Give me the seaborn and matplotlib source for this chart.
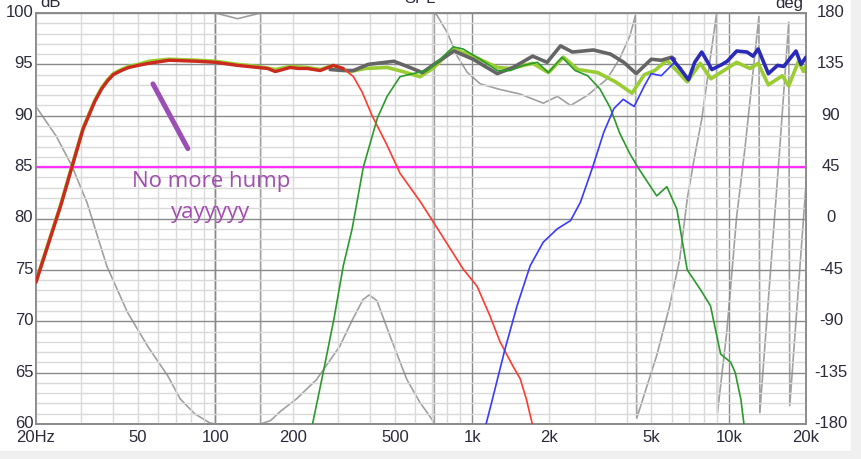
import numpy as np
import matplotlib
matplotlib.use('Agg')
import matplotlib.pyplot as plt
import seaborn as sns
from matplotlib.ticker import FixedLocator, FixedFormatter, FuncFormatter, MultipleLocator
from matplotlib.patches import Rectangle
from matplotlib.transforms import ScaledTranslation

# 低音单元 (红)
red_f = [20, 25, 27.6, 30.5, 33.9, 36, 38, 40, 43, 46, 50, 55, 66, 85, 100, 122, 146, 160, 171, 196, 210, 228,
         256, 288, 315, 345, 373, 408, 465, 524, 630, 730, 922, 1046, 1175, 1285, 1445, 1540, 1628, 1717, 1800]
red_db = [73.8, 81.3, 85.0, 88.7, 91.4, 92.6, 93.4, 94.0, 94.4, 94.7, 94.9, 95.1, 95.4, 95.3, 95.2, 94.9,
          94.7, 94.6, 94.3, 94.7, 94.6, 94.6, 94.4, 94.9, 94.6, 93.8, 92.3, 90.0, 87.2, 84.4, 81.6, 79.1,
          75.1, 73.4, 70.5, 68.0, 65.6, 64.4, 62.4, 60.0, 58.0]

# 中音单元 (绿)
mid_f = [225, 239, 263, 290, 315, 341, 377, 428, 467, 524, 589, 668, 752, 845, 922, 1075, 1254, 1410,
         1584, 1797, 1983, 2240, 2520, 2820, 3150, 3450, 3760, 4120, 4420, 5240, 5740, 6280, 6890, 7750,
         8490, 9300, 10180, 10600, 11150, 11460, 12000]
mid_db = [58.0, 60.0, 65.0, 70.3, 75.4, 79.0, 85.0, 89.8, 91.9, 93.8, 94.1, 94.4, 95.5, 96.7, 96.5, 95.5,
          94.4, 94.4, 94.9, 95.2, 94.2, 95.7, 94.4, 93.9, 92.6, 90.8, 88.3, 86.3, 85.0, 82.2, 83.1, 80.9,
          75.0, 73.1, 71.5, 66.8, 66.0, 65.0, 62.4, 60.0, 57.0]

# 高音单元 (蓝)
tw_f = [1080, 1134, 1200, 1344, 1497, 1684, 1894, 2150, 2420, 2645, 2950, 3260, 3570, 3880, 4280, 4690,
        4990, 5460, 6150, 6550]
tw_db = [58.0, 60.0, 62.4, 67.3, 71.5, 75.4, 77.7, 79.0, 79.8, 81.6, 85.0, 88.4, 90.7, 91.6, 90.9, 92.9,
         94.1, 93.9, 95.2, 94.6]
tw_top_f = [6000, 6550, 6970, 7370, 7850, 8600, 9420, 9860, 10740, 11780, 12440, 13020, 14270, 15490,
            16380, 18280, 19130, 20000]
tw_top_db = [95.6, 94.4, 93.5, 95.2, 96.2, 94.5, 95.0, 95.3, 96.3, 96.2, 95.8, 96.5, 94.1, 94.9, 94.8,
             96.3, 95.0, 95.7]

# 总响应 (浅绿)
sum_f = [20, 25, 27.6, 30.5, 33.9, 36, 38, 40, 43, 46, 50, 55, 66, 85, 100, 122, 146, 171, 196, 228, 256,
         288, 315, 335, 383, 467, 537, 626, 703, 845, 1009, 1254, 1410, 1722, 1983, 2270, 2580, 3090, 3620,
         4200, 4690, 5150, 5740, 6890, 7750, 8520, 9560, 10740, 12090, 13020, 14270, 16180, 17130,
         18690, 19560, 20000]
sum_db = [73.9, 81.4, 85.1, 88.8, 91.5, 92.7, 93.5, 94.1, 94.5, 94.8, 95.0, 95.3, 95.5, 95.4, 95.3, 95.0,
          94.8, 94.5, 94.8, 94.7, 94.5, 94.9, 94.5, 94.3, 94.6, 94.7, 94.3, 93.8, 94.6, 96.5, 95.8, 94.7,
          94.6, 95.1, 94.2, 95.7, 94.5, 94.2, 93.3, 92.2, 94.0, 94.4, 95.4, 93.3, 95.1, 93.6, 94.4, 95.2,
          94.6, 95.1, 93.0, 93.9, 92.9, 95.3, 94.3, 94.9]

# 总响应 (深灰)
sum2_f = [280, 315, 345, 394, 496, 572, 640, 730, 850, 1009, 1254, 1445, 1722, 1960, 2211, 2460, 2970,
          3460, 3900, 4360, 4990, 5460, 6000, 6150]
sum2_db = [94.5, 94.4, 94.4, 95.0, 95.3, 94.7, 94.2, 95.2, 96.3, 95.5, 94.1, 94.7, 95.8, 95.2, 96.8,
           96.2, 96.4, 96.0, 95.2, 94.1, 95.5, 95.4, 95.7, 95.5]

# 相位 (灰, deg)
ph_f = [20, 24, 27.6, 31.6, 37.8, 45.4, 54.5, 65.3, 72.9, 83, 95, 100, 100, 122, 150, 150, 164, 179,
        207, 248, 305, 343, 376, 397, 426, 479, 557, 626, 703, 713, 713, 730, 800, 876, 958, 1075, 1285,
        1540, 1894, 2150, 2420, 2820, 3350, 3760, 4120, 4330, 4380, 5240, 5880, 6440, 6890, 7370, 7850,
        8960, 9040, 9820, 10740, 11560, 13110, 13220, 15800, 17130, 17290, 20000]
ph_deg = [98, 72, 46, 14, -42, -82, -112, -138, -158, -171, -179, -180, 180, 175, 180, -180, -177, -169,
          -158, -141, -112, -88, -71, -67, -72, -103, -141, -161, -177, -180, 180, 178, 163, 142, 128, 118,
          113, 109, 101, 107, 99, 108, 122, 140, 160, 178, -175, -120, -77, -36, 17, 55, 87, 179, -170,
          -100, 2, 61, 177, -170, 61, 172, -164, 30]

ref_level = 85
note_f = [57.1, 78.1]
note_db = [93.1, 86.8]

xtick_major = [100, 1000, 10000]
xtick_major_lab = ['100', '1k', '10k']
xtick_minor_lab = {20: '20Hz', 50: '50', 200: '200', 500: '500', 2000: '2k', 5000: '5k', 20000: '20k'}
ytick_left = list(range(60, 101, 5))
ytick_right = list(range(-180, 181, 45))

sns.set_style('white')
plt.rcParams['font.family'] = ['Liberation Sans', 'DejaVu Sans']

fig = plt.figure(figsize=(8.61, 4.6), dpi=100)
fig.patches.append(Rectangle((851 / 861, 0), 10 / 861, 1, transform=fig.transFigure,
                             color='#f0f0f0', zorder=-5))
fig.patches.append(Rectangle((0, 0), 1, 8 / 460, transform=fig.transFigure,
                             color='#f0f0f0', zorder=-5))

ax = fig.add_axes([36 / 861, 35 / 460, 770 / 861, 411 / 460])
ax.set_xscale('log')
ax2 = ax.twinx()
ax.set_zorder(ax2.get_zorder() + 1)
ax.patch.set_visible(False)
ax2.patch.set_facecolor('white')

# 相位曲线
sns.lineplot(x=ph_f, y=ph_deg, ax=ax2, color='#a0a0a0', linewidth=1.2, sort=False, estimator=None)
ax2.set_ylim(-180, 180)

# 参考线
ax.axhline(ref_level, color='#ff30ff', linewidth=1.6, zorder=1.5)

kw = dict(sort=False, estimator=None, solid_joinstyle='round')
sns.lineplot(x=sum_f, y=sum_db, ax=ax, color='#9acd32', linewidth=2.6, zorder=2, **kw)
sns.lineplot(x=sum2_f, y=sum2_db, ax=ax, color='#656565', linewidth=2.6, zorder=3, **kw)
sns.lineplot(x=red_f, y=red_db, ax=ax, color='#ff3b30', linewidth=1.2, zorder=4, **kw)
sns.lineplot(x=mid_f, y=mid_db, ax=ax, color='#2a9a2a', linewidth=1.2, zorder=4, **kw)
sns.lineplot(x=tw_f, y=tw_db, ax=ax, color='#3a3aff', linewidth=1.2, zorder=4, **kw)
sns.lineplot(x=tw_top_f, y=tw_top_db, ax=ax, color='#2a2ab8', linewidth=2.6, zorder=5, **kw)
red_f_arr = np.array(red_f)
red_db_arr = np.array(red_db)
m = red_f_arr <= 330
sns.lineplot(x=red_f_arr[m], y=red_db_arr[m], ax=ax, color='#cc2a1e', linewidth=2.4, zorder=5, **kw)

# 注释
ax.plot(note_f, note_db, color='#9b4fb5', linewidth=3.6, solid_capstyle='round', zorder=6)
ax.text(96, 83.2, 'No more hump', ha='center', va='baseline', fontsize=16, color='#a24db0',
        family=['Open Sans', 'DejaVu Sans'], zorder=6)
ax.text(96, 80.15, 'yayyyyy', ha='center', va='baseline', fontsize=16, color='#a24db0',
        family=['Open Sans', 'DejaVu Sans'], zorder=6)

ax.set_xlim(20, 20000)
ax.set_ylim(60, 100)

ax.xaxis.set_major_locator(FixedLocator(xtick_major))
ax.xaxis.set_major_formatter(FixedFormatter(xtick_major_lab))
minor_vals = [m_ * d for d in (10, 100, 1000) for m_ in range(2, 10)] + [20000]
ax.xaxis.set_minor_locator(FixedLocator(minor_vals))
ax.xaxis.set_minor_formatter(FuncFormatter(lambda v, p: xtick_minor_lab.get(int(round(v)), '')))

ax.set_yticks(ytick_left, labels=[str(v) for v in ytick_left])
ax.yaxis.set_minor_locator(MultipleLocator(1))
ax2.set_yticks(ytick_right, labels=[str(v) for v in ytick_right], ha='center')

lab_col = '#2b2b3b'
ax.tick_params(axis='x', which='both', length=0, labelsize=12, labelcolor=lab_col, pad=3.5)
ax.tick_params(axis='y', which='both', length=0, labelsize=12, labelcolor=lab_col, pad=2)
ax2.tick_params(axis='y', length=0, labelsize=12, labelcolor=lab_col, pad=18)
ax2.grid(False)

# y 刻度文字稍微上移
up = ScaledTranslation(0, 0.03, fig.dpi_scale_trans)
for lbl in ax.get_yticklabels() + ax2.get_yticklabels():
    lbl.set_transform(lbl.get_transform() + up)

ax.set_axisbelow(True)
ax.grid(which='minor', color='#dadada', linewidth=1)
ax.grid(which='major', color='#8a8a8a', linewidth=1)
ax.set_xlabel('')
ax.set_ylabel('')
ax2.set_ylabel('')

for a in (ax, ax2):
    for s in a.spines.values():
        s.set_color('#8a8a8a')
        s.set_linewidth(1.2)

fig.text(40 / 861, 1 - 7 / 460, 'dB', ha='left', va='baseline', fontsize=12, color=lab_col)
fig.text(803 / 861, 1 - 8 / 460, 'deg', ha='right', va='baseline', fontsize=12, color=lab_col)
fig.text(420 / 861, 1 - 3 / 460, 'SPL', ha='center', va='baseline', fontsize=12, color=lab_col)

fig.savefig('out.png', dpi=100)
